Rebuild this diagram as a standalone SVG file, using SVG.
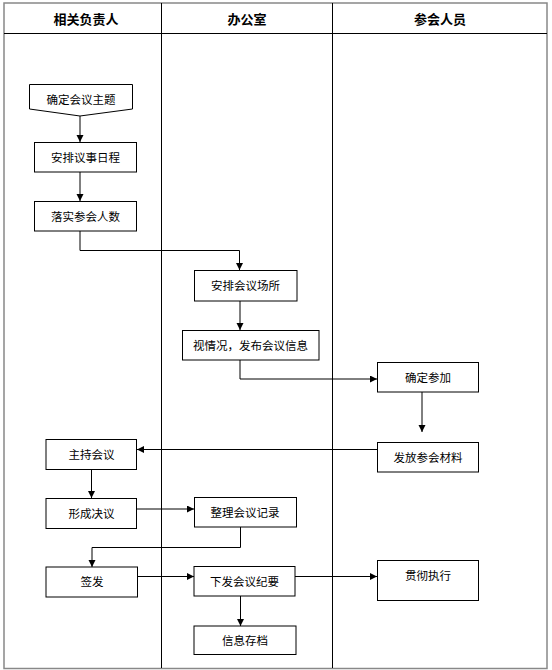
<svg xmlns="http://www.w3.org/2000/svg" width="552" height="670" viewBox="0 0 552 670">
<style>
.lane{stroke:#000;stroke-width:1;fill:none}
.hdr{font-family:"Liberation Sans","Noto Sans CJK SC",sans-serif;font-size:13px;font-weight:bold;text-anchor:middle;fill:#000}
.box{fill:#fff;stroke:#000;stroke-width:1}
.lbl{font-family:"Liberation Sans","Noto Sans CJK SC",sans-serif;font-size:11.5px;text-anchor:middle;dominant-baseline:central;fill:#000}
.con{fill:none;stroke:#000;stroke-width:1;marker-end:url(#arr)}
</style>
<defs>
<marker id="arr" markerUnits="userSpaceOnUse" markerWidth="8" markerHeight="8" refX="7" refY="3.5" orient="auto">
<path d="M0,0 L7,3.5 L0,7 Z" fill="#000"/>
</marker>
</defs>
<rect x="0" y="0" width="552" height="670" fill="#fff"/>
<g id="lanes">
<rect x="4" y="3" width="543" height="665.5" fill="none" stroke="#888" stroke-width="1.5"/>
<line class="lane" x1="4" y1="33.5" x2="547" y2="33.5"/>
<line class="lane" x1="161.5" y1="3" x2="161.5" y2="668"/>
<line class="lane" x1="332.5" y1="3" x2="332.5" y2="668"/>
<text class="hdr" x="86" y="24">相关负责人</text>
<text class="hdr" x="247" y="24">办公室</text>
<text class="hdr" x="440" y="24">参会人员</text>
</g>
<g id="connectors">
<path class="con" d="M80,116 V142"/>
<path class="con" d="M80,172 V201"/>
<path class="con" d="M80,231 V250.5 H239.5 V270"/>
<path class="con" d="M240,301 V330"/>
<path class="con" d="M240,360 V379 H377"/>
<path class="con" d="M422,392 V432"/>
<path class="con" d="M377,449.5 H137"/>
<path class="con" d="M91.5,469 V498"/>
<path class="con" d="M137,509 H194"/>
<path class="con" d="M240.5,527 V547.5 H92 V567"/>
<path class="con" d="M138,576.5 H194"/>
<path class="con" d="M295,576.5 H377"/>
<path class="con" d="M240.5,596 V626"/>
</g>
<g id="n1"><path class="box" d="M29.5,84.5 H132.5 V109 L80,116 L29.5,109 Z"/><text class="lbl" x="81" y="100">确定会议主题</text></g>
<g id="n2"><rect class="box" x="34.5" y="142.5" width="102" height="29.5"/><text class="lbl" x="85.5" y="157.5">安排议事日程</text></g>
<g id="n3"><rect class="box" x="34.5" y="201.5" width="102" height="29.5"/><text class="lbl" x="85.5" y="216.5">落实参会人数</text></g>
<g id="n4"><rect class="box" x="194.5" y="270.5" width="102.5" height="30.5"/><text class="lbl" x="245.5" y="286">安排会议场所</text></g>
<g id="n5"><rect class="box" x="182.5" y="330.5" width="136.5" height="29.5"/><text class="lbl" x="250.5" y="345.5">视情况，发布会议信息</text></g>
<g id="n6"><rect class="box" x="377.5" y="362.5" width="101" height="29.5"/><text class="lbl" x="428" y="377.5">确定参加</text></g>
<g id="n7"><rect class="box" x="377.5" y="442.5" width="101" height="29.5"/><text class="lbl" x="428" y="457.5">发放参会材料</text></g>
<g id="n8"><rect class="box" x="46" y="439.5" width="90.5" height="30"/><text class="lbl" x="91.5" y="454.5">主持会议</text></g>
<g id="n9"><rect class="box" x="46" y="498.5" width="90.5" height="30"/><text class="lbl" x="91.5" y="513.5">形成决议</text></g>
<g id="n10"><rect class="box" x="194.5" y="497.5" width="102" height="29.5"/><text class="lbl" x="245" y="512.5">整理会议记录</text></g>
<g id="n11"><rect class="box" x="46" y="567" width="91.5" height="30"/><text class="lbl" x="92" y="582">签发</text></g>
<g id="n12"><rect class="box" x="194" y="566.5" width="101" height="29.5"/><text class="lbl" x="244.5" y="581.5">下发会议纪要</text></g>
<g id="n13"><rect class="box" x="377.5" y="560.5" width="101" height="40"/><text class="lbl" x="428" y="576">贯彻执行</text></g>
<g id="n14"><rect class="box" x="194" y="626" width="102" height="28.5"/><text class="lbl" x="245" y="640.5">信息存档</text></g>
</svg>
